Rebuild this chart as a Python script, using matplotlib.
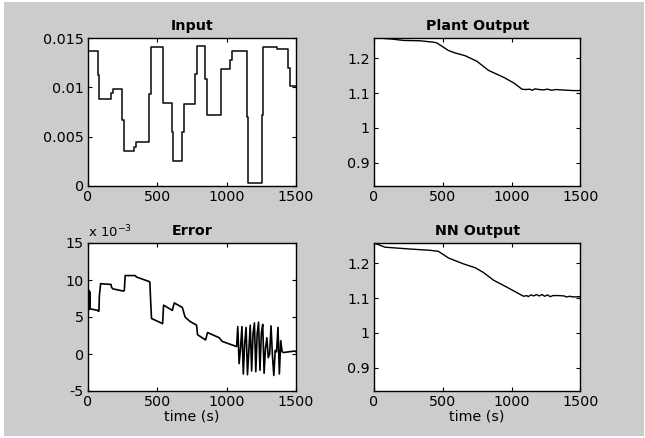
import matplotlib
matplotlib.use("Agg")
import matplotlib.pyplot as plt
from matplotlib.patches import Rectangle

# ---------------- data ----------------
input_t = [0, 70, 79, 166, 178, 248, 262, 334, 346, 442, 452, 543, 608, 615, 680, 690,
           769, 788, 844, 856, 957, 1026, 1038, 1144, 1156, 1252, 1264, 1365, 1444, 1456, 1500]
input_v = [0.0137, 0.0113, 0.0088, 0.0094, 0.0098, 0.0067, 0.0035, 0.0040, 0.0045, 0.0093,
           0.0141, 0.0084, 0.0055, 0.0025, 0.0055, 0.0083, 0.0114, 0.0142, 0.0108, 0.0072,
           0.0119, 0.0128, 0.0137, 0.0070, 0.0003, 0.0072, 0.0141, 0.0139, 0.0120, 0.0101, 0.0101]

plant_t = [0, 31, 129, 214, 335, 432, 456, 541, 590, 663, 748, 832, 942, 1015, 1075, 1100,
           1130, 1150, 1170, 1200, 1230, 1260, 1290, 1320, 1360, 1400, 1450, 1490, 1500]
plant_v = [1.258, 1.258, 1.255, 1.251, 1.250, 1.246, 1.244, 1.222, 1.215, 1.207, 1.191, 1.165,
           1.145, 1.129, 1.111, 1.110, 1.111, 1.108, 1.112, 1.110, 1.109, 1.111, 1.108, 1.110,
           1.109, 1.108, 1.107, 1.107, 1.109]

nn_t = [0, 40, 80, 250, 408, 468, 541, 650, 735, 796, 869, 966, 1063, 1087, 1110, 1120, 1140,
        1160, 1180, 1200, 1220, 1240, 1260, 1280, 1300, 1340, 1380, 1400, 1420, 1450, 1500]
nn_v = [1.258, 1.252, 1.246, 1.241, 1.237, 1.234, 1.215, 1.198, 1.187, 1.173, 1.151, 1.131,
        1.110, 1.105, 1.107, 1.104, 1.109, 1.106, 1.110, 1.106, 1.110, 1.105, 1.109, 1.104,
        1.107, 1.107, 1.106, 1.103, 1.105, 1.103, 1.104]

# error in units of 1e-3
error_t = [0, 7, 8, 14, 15, 70, 72, 79, 82, 91, 166, 170, 180, 255, 262, 268, 340, 350, 440,
           446, 452, 458, 538, 545, 608, 622, 680, 700, 735, 783, 790, 848, 862, 946, 968, 1072,
           1080, 1090, 1100, 1110, 1120, 1130, 1140, 1150, 1160, 1170, 1180, 1190, 1200, 1210,
           1220, 1230, 1240, 1250, 1260, 1270, 1280, 1290, 1300, 1310, 1320, 1330, 1340, 1350,
           1360, 1370, 1380, 1390, 1400, 1410, 1450, 1490, 1500]
error_milli = [8.4, 8.6, 6.0, 8.4, 6.1, 5.9, 5.8, 5.8, 7.9, 9.5, 9.4, 9.0, 8.8, 8.5, 8.6, 10.6,
               10.6, 10.4, 9.8, 9.7, 7.1, 4.8, 4.1, 6.6, 5.9, 6.9, 6.3, 5.0, 4.4, 3.9, 2.6, 1.9,
               2.9, 2.2, 1.7, 1.0,
               3.7, -1.3, 0.8, 3.7, -2.7, 1.5, 3.6, -2.8, 0.5, 3.9, -2.3, 2.7, 4.2, -2.4,
               2.7, 4.3, -2.2, 2.8, 4.0, -2.6, 0.8, 2.2, -0.5, 0.0, 3.8, -0.2, -2.9, 0.5,
               0.3, 3.6, -2.7, 1.8, 0.3, 0.2, 0.3, 0.4, 0.3]

x_ticks = [0, 500, 1000, 1500]
input_yticks = [0, 0.005, 0.01, 0.015]
input_ylabels = ['0', '0.005', '0.01', '0.015']
out_yticks = [0.9, 1.0, 1.1, 1.2]
out_ylabels = ['0.9', '1', '1.1', '1.2']
err_yticks = [-5, 0, 5, 10, 15]
err_ylabels = ['-5', '0', '5', '10', '15']

# ---------------- figure ----------------
W, H = 645, 438
fig = plt.figure(figsize=(W / 100, H / 100), dpi=100, facecolor='white')
fig.patches.append(Rectangle((4 / W, 2 / H), (W - 5) / W, (H - 4) / H,
                             transform=fig.transFigure, facecolor='#cccccc',
                             edgecolor='none', zorder=-10))

plt.rcParams['font.family'] = ['DejaVu Sans']
FS = 10.3


def box(l, t, r, b):
    return [l / W, 1 - b / H, (r - l) / W, (b - t) / H]


def style(ax, title, yticks, ylabels, ylim, xlabel=None):
    ax.set_facecolor('white')
    ax.set_xlim(0, 1500)
    ax.set_ylim(*ylim)
    ax.set_xticks(x_ticks)
    ax.set_xticklabels([str(v) for v in x_ticks])
    ax.set_yticks(yticks)
    ax.set_yticklabels(ylabels)
    ax.tick_params(direction='in', length=3, width=0.8, top=True, right=True,
                   labelsize=FS, colors='black', pad=3)
    for s in ax.spines.values():
        s.set_linewidth(1.0)
        s.set_color('black')
    ax.set_title(title, fontsize=10.3, fontweight='bold', pad=6)
    if xlabel:
        ax.set_xlabel(xlabel, fontsize=FS, labelpad=0)


ax1 = fig.add_axes(box(88, 38, 296, 186))
ax1.plot(input_t, input_v, color='#1a1a1a', lw=1.2, drawstyle='steps-post')
style(ax1, 'Input', input_yticks, input_ylabels, (0, 0.015))

ax2 = fig.add_axes(box(374, 38, 580.5, 186))
ax2.plot(plant_t, plant_v, color='black', lw=1.0)
style(ax2, 'Plant Output', out_yticks, out_ylabels, (0.833, 1.258))

ax3 = fig.add_axes(box(88, 243, 296, 391))
ax3.plot(error_t, error_milli, color='black', lw=1.2)
style(ax3, 'Error', err_yticks, err_ylabels, (-5, 15), xlabel='time (s)')
ax3.text(0.0, 1.02, r'x 10$^{-3}$', transform=ax3.transAxes, fontsize=9.5,
         ha='left', va='bottom')

ax4 = fig.add_axes(box(374, 243, 580.5, 391))
ax4.plot(nn_t, nn_v, color='black', lw=1.0)
style(ax4, 'NN Output', out_yticks, out_ylabels, (0.833, 1.258), xlabel='time (s)')

fig.savefig('out.png', dpi=100, facecolor='white')
